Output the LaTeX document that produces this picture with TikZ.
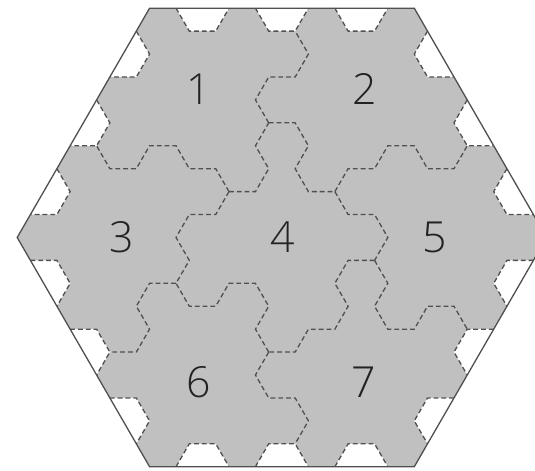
\documentclass[tikz,border=0pt]{standalone}
\usepackage{fontspec}
\IfFontExistsTF{Open Sans Light}
  {\newfontfamily\numfont{Open Sans Light}}
  {\newfontfamily\numfont{Lato}[UprightFont=* Light]}
\definecolor{hexgray}{RGB}{192,192,192}
\definecolor{linegray}{RGB}{80,80,80}
\definecolor{txtgray}{RGB}{35,35,35}
\begin{document}
\begin{tikzpicture}[x=0.5cm,y=0.8660254cm,
  outline/.style={draw=linegray, line width=0.7pt, line join=miter},
  cut/.style={draw=linegray, line width=0.7pt, dash pattern=on 2.6pt off 1.6pt},
  notch/.style={fill=white, cut},
  lab/.style={font=\numfont\fontsize{23}{23}\selectfont, text=txtgray, inner sep=0pt}]
\useasboundingbox (-10.65,-5.092) rectangle (9.56,5.179);
\clip (-10.65,-5.092) rectangle (9.56,5.179);
% board
\fill[hexgray] (-10,0) -- (-5,5) -- (5,5) -- (10,0) -- (5,-5) -- (-5,-5) -- cycle;
% white half-hexagons along the border
\foreach \x in {-3,0,3} {
  \path[notch] (\x-1,5) -- (\x-0.5,4.5) -- (\x+0.5,4.5) -- (\x+1,5);
  \path[notch] (\x-1,-5) -- (\x-0.5,-4.5) -- (\x+0.5,-4.5) -- (\x+1,-5);
}
\foreach \x/\y in {-9/1,-7.5/2.5,-6/4}
  \path[notch] (\x+0.5,\y+0.5) -- (\x+1,\y) -- (\x+0.5,\y-0.5) -- (\x-0.5,\y-0.5);
\foreach \x/\y in {9/1,7.5/2.5,6/4}
  \path[notch] (\x-0.5,\y+0.5) -- (\x-1,\y) -- (\x-0.5,\y-0.5) -- (\x+0.5,\y-0.5);
\foreach \x/\y in {-9/-1,-7.5/-2.5,-6/-4}
  \path[notch] (\x-0.5,\y+0.5) -- (\x+0.5,\y+0.5) -- (\x+1,\y) -- (\x+0.5,\y-0.5);
\foreach \x/\y in {9/-1,7.5/-2.5,6/-4}
  \path[notch] (\x+0.5,\y+0.5) -- (\x-0.5,\y+0.5) -- (\x-1,\y) -- (\x-0.5,\y-0.5);
% region boundaries
\draw[cut] (-0.5,2.5) -- (-1,3) -- (-0.5,3.5) -- (0.5,3.5) -- (1,4) -- (0.5,4.5);
\draw[cut] (-2,1) -- (-1,1) -- (-0.5,1.5) -- (-1,2) -- (-0.5,2.5);
\draw[cut] (-0.5,2.5) -- (0.5,2.5) -- (1,2) -- (0.5,1.5) -- (1,1) -- (2,1);
\draw[cut] (-2,1) -- (-2.5,1.5) -- (-3.5,1.5) -- (-4,2) -- (-5,2) -- (-5.5,1.5) -- (-6.5,1.5) -- (-7,2);
\draw[cut] (2,1) -- (2.5,1.5) -- (3.5,1.5) -- (4,2) -- (5,2) -- (5.5,1.5) -- (6.5,1.5) -- (7,2);
\draw[cut] (-2,1) -- (-2.5,0.5) -- (-3.5,0.5) -- (-4,0) -- (-3.5,-0.5) -- (-4,-1);
\draw[cut] (2,1) -- (2.5,0.5) -- (3.5,0.5) -- (4,0) -- (3.5,-0.5);
\draw[cut] (3.5,-0.5) -- (4,-1) -- (3.5,-1.5) -- (4,-2) -- (5,-2) -- (5.5,-1.5) -- (6.5,-1.5) -- (7,-2);
\draw[cut] (3.5,-0.5) -- (2.5,-0.5) -- (2,-1) -- (2.5,-1.5) -- (2,-2) -- (1,-2) -- (0.5,-2.5) -- (-0.5,-2.5);
\draw[cut] (-0.5,-2.5) -- (-1,-2) -- (-0.5,-1.5) -- (-1,-1) -- (-2,-1) -- (-2.5,-1.5) -- (-3.5,-1.5) -- (-4,-1);
\draw[cut] (-0.5,-2.5) -- (-1,-3) -- (-0.5,-3.5) -- (0.5,-3.5) -- (1,-4) -- (0.5,-4.5);
\draw[cut] (-4,-1) -- (-5,-1) -- (-5.5,-1.5) -- (-5,-2) -- (-5.5,-2.5) -- (-6.5,-2.5);
% board outline
\draw[outline] (-10,0) -- (-5,5) -- (5,5) -- (10,0) -- (5,-5) -- (-5,-5) -- cycle;
% labels
\node[lab] (n1) at (-3.14,3.23) {1};
\node[lab] (n2) at (3.14,3.23) {2};
\node[lab] (n3) at (-6.06,0) {3};
\node[lab] (n4) at (0.02,0) {4};
\node[lab] (n5) at (5.76,0) {5};
\node[lab] (n6) at (-3.14,-3.15) {6};
\node[lab] (n7) at (3.10,-3.15) {7};
\end{tikzpicture}
\end{document}
